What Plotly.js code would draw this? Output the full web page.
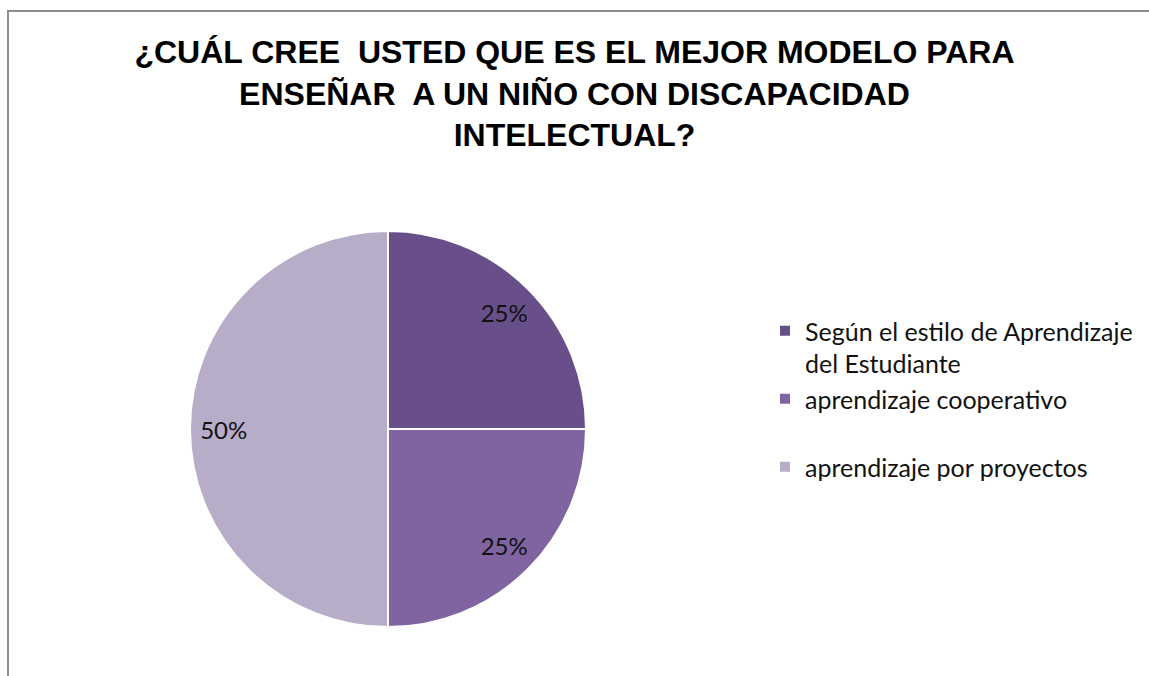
<!DOCTYPE html>
<html>
<head>
<meta charset="utf-8">
<script src="https://cdn.plot.ly/plotly-3.0.1.min.js"></script>
<style>html,body{margin:0;padding:0;background:#fff;}#chart{width:1149px;height:676px;}</style>
</head>
<body>
<div id="chart"></div>
<script>
const titleLines = ["¿CUÁL CREE  USTED QUE ES EL MEJOR MODELO PARA", "ENSEÑAR  A UN NIÑO CON DISCAPACIDAD", "INTELECTUAL?"];
const categories = ["Según el estilo de Aprendizaje<br>del Estudiante", "aprendizaje cooperativo<br> ", "aprendizaje por proyectos<br> "];
const values = [25, 25, 50];
const colors = ["#684f8a", "#8064a2", "#b8adc9"];

const pieDomain = {x: [190/1149, 586/1149], y: [49/676, 445/676]};

const trace = {
  type: "pie",
  labels: categories,
  values: values,
  sort: false,
  direction: "clockwise",
  rotation: 0,
  textinfo: "none",
  marker: {colors: colors, line: {color: "#ffffff", width: 2}},
  domain: pieDomain,
  hoverinfo: "label+percent"
};

const labelTrace = {
  type: "pie",
  labels: categories,
  values: values,
  sort: false,
  direction: "clockwise",
  rotation: 0,
  hole: 0.66,
  showlegend: false,
  textinfo: "percent",
  textposition: "inside",
  insidetextorientation: "horizontal",
  textfont: {family: "Lato, 'Noto Sans', sans-serif", size: 24, color: "#111"},
  marker: {colors: ["rgba(0,0,0,0)", "rgba(0,0,0,0)", "rgba(0,0,0,0)"], line: {width: 0}},
  domain: pieDomain,
  hoverinfo: "skip"
};

const layout = {
  width: 1149,
  height: 676,
  margin: {l: 0, r: 0, t: 0, b: 0},
  paper_bgcolor: "#ffffff",
  title: {
    text: titleLines.join("<br>"),
    font: {family: "'Liberation Sans', Arial, sans-serif", size: 32, color: "#000", weight: "bold"},
    x: 0.5, xanchor: "center",
    y: 1 - 63/676, yanchor: "top"
  },
  showlegend: true,
  legend: {
    x: 765/1149, xanchor: "left",
    y: (676-308)/676, yanchor: "top",
    valign: "top",
    font: {family: "Lato, 'Noto Sans', sans-serif", size: 25, color: "#111"},
    bgcolor: "rgba(0,0,0,0)",
    itemwidth: 30
  },
  shapes: [{
    type: "rect", xref: "paper", yref: "paper",
    x0: 8/1149, x1: 1.02, y0: -0.02, y1: (676-11)/676,
    line: {color: "#8c8c8c", width: 2}, fillcolor: "rgba(0,0,0,0)"
  }]
};

Plotly.newPlot("chart", [trace, labelTrace], layout, {displayModeBar: false, staticPlot: true});
</script>
</body>
</html>
